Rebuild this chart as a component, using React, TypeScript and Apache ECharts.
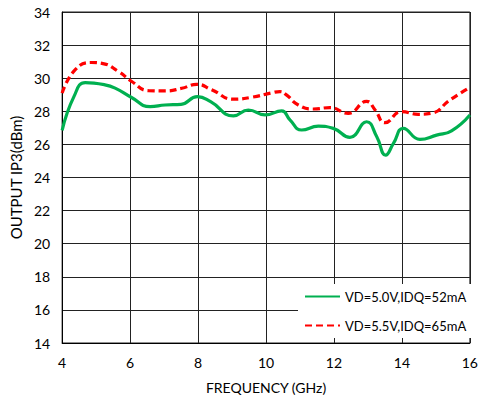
import React, { useEffect, useRef } from "react";
import * as echarts from "echarts";

const seriesNames = ["VD=5.0V,IDQ=52mA", "VD=5.5V,IDQ=65mA"];

const freqGreen = [4.0, 4.35, 4.68, 5.26, 5.56, 6.03, 6.59, 7.03, 7.5, 7.98, 8.37, 9.04, 9.48, 9.97, 10.46, 10.71, 11.05, 11.54, 11.98, 12.47, 12.96, 13.26, 13.52, 13.75, 14.04, 14.53, 15.02, 15.46, 16.0];
const ip3Green = [26.85, 28.9, 29.73, 29.6, 29.4, 28.85, 28.28, 28.38, 28.42, 28.89, 28.58, 27.72, 28.08, 27.78, 28.02, 27.47, 26.87, 27.1, 26.97, 26.42, 27.37, 26.46, 25.35, 26.06, 26.97, 26.3, 26.56, 26.82, 27.78];

const freqRed = [4.0, 4.38, 4.87, 5.17, 5.66, 6.05, 6.54, 7.03, 7.52, 7.96, 8.4, 9.04, 9.58, 10.2, 10.41, 10.6, 10.95, 11.39, 11.88, 12.42, 12.96, 13.21, 13.5, 13.99, 14.48, 14.87, 15.41, 16.0];
const ip3Red = [29.1, 30.5, 30.95, 30.9, 30.4, 29.8, 29.25, 29.23, 29.39, 29.63, 29.3, 28.73, 28.85, 29.13, 29.19, 28.99, 28.38, 28.14, 28.22, 27.88, 28.6, 28.08, 27.31, 27.98, 27.82, 27.88, 28.68, 29.45];

const FONT = "Lato";

export default function App() {
  const ref = useRef<HTMLDivElement>(null);
  useEffect(() => {
    if (!ref.current) return;
    const chart = echarts.init(ref.current, null, { renderer: "svg" });
    chart.setOption({
      animation: false,
      textStyle: { fontFamily: FONT },
      grid: { left: 62, right: 11, top: 12, bottom: 60, show: true, borderColor: "#222", borderWidth: 1, backgroundColor: "transparent" },
      xAxis: {
        type: "value",
        min: 4,
        max: 16,
        interval: 2,
        name: "FREQUENCY (GHz)",
        nameLocation: "middle",
        nameGap: 37,
        nameTextStyle: { fontFamily: FONT, fontSize: 14, color: "#000" },
        axisLine: { show: true, lineStyle: { color: "#000", width: 1 } },
        axisTick: { show: false },
        axisLabel: { fontFamily: FONT, fontSize: 14, color: "#000", margin: 12 },
        splitLine: { show: true, lineStyle: { color: "#222", width: 1 } },
      },
      yAxis: {
        type: "value",
        min: 14,
        max: 34,
        interval: 2,
        name: "OUTPUT IP3(dBm)",
        nameLocation: "middle",
        nameGap: 35,
        nameTextStyle: { fontFamily: FONT, fontSize: 15, color: "#000" },
        axisLine: { show: true, lineStyle: { color: "#000", width: 1 } },
        axisTick: { show: false },
        axisLabel: { fontFamily: FONT, fontSize: 14, color: "#000", margin: 12 },
        splitLine: { show: true, lineStyle: { color: "#222", width: 1 } },
      },
      legend: {
        orient: "vertical",
        left: 298,
        top: 284,
        padding: [6, 10, 6, 6],
        itemWidth: 35,
        itemHeight: 10,
        itemGap: 16,
        backgroundColor: "#fff",
        itemStyle: { opacity: 0 },
        textStyle: { fontFamily: FONT, fontSize: 13, color: "#000" },
        data: seriesNames,
      },
      series: [
        {
          name: seriesNames[0],
          type: "line",
          smooth: 0.5,
          symbol: "none",
          data: freqGreen.map((f, i) => [f, ip3Green[i]]),
          lineStyle: { color: "#00b050", width: 3.2 },
          itemStyle: { color: "#00b050" },
          z: 3,
        },
        {
          name: seriesNames[1],
          type: "line",
          smooth: 0.5,
          symbol: "none",
          data: freqRed.map((f, i) => [f, ip3Red[i]]),
          lineStyle: { color: "#ff0000", width: 3.2, type: [7, 4] },
          itemStyle: { color: "#ff0000" },
          z: 3,
        },
      ],
    });
    return () => chart.dispose();
  }, []);
  return <div ref={ref} style={{ width: 481, height: 403, position: "absolute", left: 0, top: 0 }} />;
}
